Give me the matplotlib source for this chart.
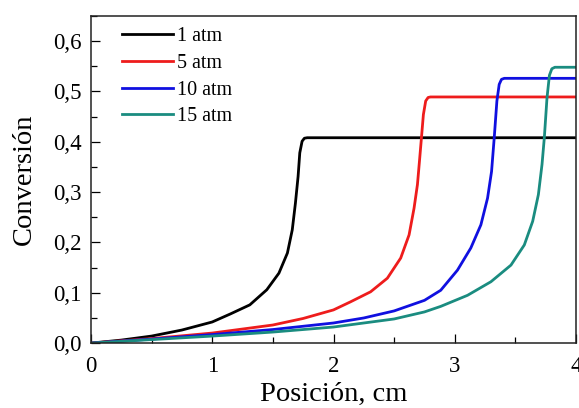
import matplotlib
matplotlib.use("Agg")
import matplotlib.pyplot as plt
from matplotlib.ticker import MultipleLocator

plt.rcParams['font.family'] = ['Liberation Serif', 'DejaVu Serif']

# conversion profiles along the reactor, read point by point
x_1atm = [0, 0.25, 0.5, 0.75, 1.0, 1.15, 1.31, 1.45, 1.55, 1.62, 1.66, 1.686, 1.708, 1.722, 1.741, 1.76, 1.783, 4.0]
y_1atm = [0, 0.006, 0.014, 0.026, 0.042, 0.058, 0.076, 0.106, 0.139, 0.179, 0.225, 0.278, 0.331, 0.378, 0.401, 0.407, 0.408, 0.408]

x_5atm = [0, 0.5, 1.0, 1.5, 1.75, 2.0, 2.14, 2.306, 2.444, 2.554, 2.623, 2.664, 2.692, 2.711, 2.725, 2.741, 2.76, 2.78, 2.80, 4.0]
y_5atm = [0, 0.009, 0.02, 0.036, 0.049, 0.066, 0.082, 0.102, 0.129, 0.169, 0.215, 0.268, 0.315, 0.368, 0.408, 0.454, 0.481, 0.488, 0.489, 0.489]

x_10atm = [0, 0.5, 1.0, 1.5, 2.0, 2.25, 2.5, 2.75, 2.884, 3.022, 3.132, 3.215, 3.27, 3.303, 3.325, 3.347, 3.366, 3.385, 3.408, 4.0]
y_10atm = [0, 0.008, 0.017, 0.027, 0.04, 0.05, 0.064, 0.085, 0.105, 0.145, 0.189, 0.235, 0.288, 0.341, 0.408, 0.481, 0.514, 0.524, 0.526, 0.526]

x_15atm = [0, 0.5, 1.0, 1.5, 2.0, 2.5, 2.75, 2.884, 3.105, 3.298, 3.463, 3.573, 3.642, 3.689, 3.719, 3.738, 3.76, 3.78, 3.80, 3.825, 4.0]
y_15atm = [0, 0.007, 0.014, 0.022, 0.032, 0.048, 0.062, 0.073, 0.095, 0.122, 0.155, 0.195, 0.242, 0.295, 0.355, 0.408, 0.487, 0.532, 0.545, 0.548, 0.548]

labels = ['1 atm', '5 atm', '10 atm', '15 atm']
colors = ['#000000', '#ee1c1c', '#1010e0', '#1a8c80']

xticks = [0, 1, 2, 3, 4]
yticks = [0.0, 0.1, 0.2, 0.3, 0.4, 0.5, 0.6]
yticklabels = ['0,0', '0,1', '0,2', '0,3', '0,4', '0,5', '0,6']

fig = plt.figure(figsize=(5.79, 4.08), dpi=100)
ax = fig.add_axes([0.157, 0.159, 0.838, 0.802])

series = [(x_1atm, y_1atm), (x_5atm, y_5atm), (x_10atm, y_10atm), (x_15atm, y_15atm)]
for (xs, ys), lab, c in zip(series, labels, colors):
    ax.plot(xs, ys, color=c, lw=2.0, label=lab, solid_joinstyle='round')

ax.set_xlim(0, 4)
ax.set_ylim(0, 0.65)
ax.set_xticks(xticks)
ax.set_xticklabels([str(t) for t in xticks])
ax.set_yticks(yticks)
ax.set_yticklabels(yticklabels)
ax.xaxis.set_minor_locator(MultipleLocator(0.5))
ax.yaxis.set_minor_locator(MultipleLocator(0.05))
ax.tick_params(which='major', direction='in', length=6.5, width=0.9, labelsize=16.5)
ax.tick_params(which='minor', direction='in', length=4, width=0.9)
ax.tick_params(axis='x', which='major', pad=9.5)
ax.tick_params(axis='y', which='major', pad=6.5)
for sp in ax.spines.values():
    sp.set_linewidth(1.1)
    sp.set_color('#222222')

ax.set_xlabel('Posición, cm', fontsize=20.5, labelpad=3)
ax.set_ylabel('Conversión', fontsize=20.5, labelpad=12)

ax.legend(loc='upper left', bbox_to_anchor=(0.03, 1.015), frameon=False, fontsize=14.5,
          handlelength=2.55, handletextpad=0.2, labelspacing=0.38, borderpad=0.3)

fig.savefig('out.png', dpi=100)
